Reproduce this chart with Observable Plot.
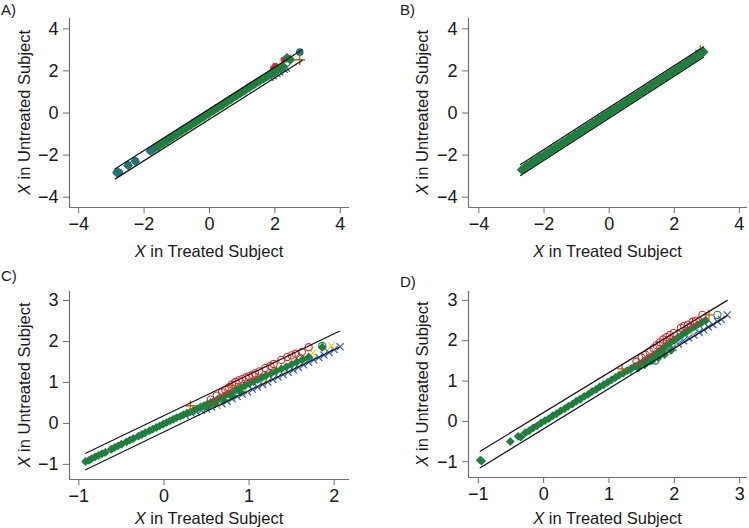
<!DOCTYPE html>
<html><head><meta charset="utf-8">
<script src="https://cdn.jsdelivr.net/npm/d3@7"></script>
<script src="https://cdn.jsdelivr.net/npm/@observablehq/plot@0.6"></script>
<style>
body{margin:0;background:#fff;}
#wrap{position:relative;width:749px;height:528px;overflow:hidden;}
#wrap svg{position:absolute;}
</style></head><body><div id="wrap"></div>
<script>
// ---------- tick labels ----------
const ticksAB = [-4, -2, 0, 2, 4];
const ticksCy = [-1, 0, 1, 2, 3];
const ticksCx = [-1, 0, 1, 2];
const ticksDx = [-1, 0, 1, 2, 3];
const panelLabels = ["A)", "B)", "C)", "D)"];
const xTitle = ["X", " in Treated Subject"];
const yTitle = ["X", " in Untreated Subject"];

// ---------- reference lines (endpoints) ----------
const upperA = [[-2.88, -2.65], [2.83, 3.00]];
const lowerA = [[-2.88, -3.13], [2.83, 2.49]];
const upperB = [[-2.72, -2.45], [2.90, 3.15]];
const lowerB = [[-2.72, -2.97], [2.90, 2.65]];
const upperC = [[-0.92, -0.73], [2.06, 2.25]];
const lowerC = [[-0.92, -1.13], [2.06, 1.86]];
const upperD = [[-0.97, -0.74], [2.81, 3.00]];
const lowerD = [[-0.97, -1.15], [2.81, 2.62]];

// ---------- Panel A points ----------
const greenA = [[-2.83,-2.84],[-2.78,-2.82],[-2.49,-2.49],[-2.27,-2.29],[-1.81,-1.80],
[-1.72,-1.72],[-1.64,-1.63],[-1.57,-1.58],[-1.50,-1.49],[-1.43,-1.44],[-1.36,-1.35],[-1.29,-1.30],[-1.22,-1.21],
[-1.15,-1.16],[-1.08,-1.07],[-1.01,-1.02],[-0.94,-0.93],[-0.87,-0.88],[-0.80,-0.79],[-0.73,-0.74],[-0.66,-0.65],
[-0.59,-0.60],[-0.52,-0.51],[-0.45,-0.46],[-0.38,-0.37],[-0.31,-0.32],[-0.24,-0.23],[-0.17,-0.18],[-0.10,-0.09],
[-0.03,-0.04],[0.04,0.05],[0.11,0.10],[0.18,0.19],[0.25,0.24],[0.32,0.33],[0.39,0.38],[0.46,0.47],[0.53,0.52],
[0.60,0.61],[0.67,0.66],[0.74,0.75],[0.81,0.80],[0.88,0.89],[0.95,0.94],[1.02,1.03],[1.09,1.08],[1.16,1.17],
[1.23,1.22],[1.30,1.31],[1.37,1.36],[1.44,1.45],[1.51,1.50],[1.58,1.59],[1.65,1.63],[1.72,1.71],[1.79,1.76],
[1.86,1.84],[1.93,1.90],[2.00,1.96],[2.08,2.04],[2.16,2.12],[2.25,2.22],[2.37,2.62],[2.47,2.53]];
const tealA = [[-2.83,-2.82],[-2.76,-2.83],[-2.49,-2.47],[-2.27,-2.27],[-1.81,-1.79],[2.76,2.89]];
const redA = [[1.95,2.12],[2.01,2.24],[2.27,2.53]];
const blueA = [[1.85,1.70],[1.95,1.77],[2.06,1.88],[2.15,1.95],[2.28,2.08],[2.35,2.14]];
const orangeA = [[2.76,2.53]];

// ---------- Panel B points ----------
const greenB = [[-2.68,-2.70],[-2.60,-2.61],[-2.52,-2.51],[-2.44,-2.45],[-2.36,-2.35],[-2.28,-2.29],[-2.20,-2.20],
[-2.12,-2.11],[-2.03,-2.04],[-1.94,-1.93],[-1.85,-1.86],[-1.76,-1.75],[-1.67,-1.68],[-1.58,-1.57],[-1.49,-1.50],
[-1.40,-1.39],[-1.31,-1.32],[-1.22,-1.21],[-1.13,-1.14],[-1.04,-1.03],[-0.95,-0.96],[-0.86,-0.85],[-0.77,-0.78],
[-0.68,-0.67],[-0.59,-0.60],[-0.50,-0.49],[-0.41,-0.42],[-0.32,-0.31],[-0.23,-0.24],[-0.14,-0.13],[-0.05,-0.06],
[0.04,0.05],[0.13,0.12],[0.22,0.23],[0.31,0.30],[0.40,0.41],[0.49,0.48],[0.58,0.59],[0.67,0.66],[0.76,0.77],
[0.85,0.84],[0.94,0.95],[1.03,1.02],[1.12,1.13],[1.21,1.20],[1.30,1.31],[1.39,1.38],[1.48,1.49],[1.57,1.56],
[1.66,1.67],[1.75,1.74],[1.84,1.85],[1.93,1.92],[2.02,2.03],[2.11,2.10],[2.20,2.21],[2.29,2.28],[2.38,2.39],
[2.47,2.46],[2.56,2.57],[2.65,2.64],[2.74,2.75],[2.82,2.83],[2.90,2.90]];
const orangeB = [[2.80,2.97]];

// ---------- Panel C points ----------
const greenC = [[-0.92,-0.93],[-0.88,-0.90],[-0.85,-0.86],[-0.81,-0.82],[-0.77,-0.78],[-0.73,-0.74],[-0.69,-0.71],
[-0.62,-0.63],[-0.58,-0.59],[-0.54,-0.55],[-0.50,-0.51],[-0.44,-0.45],[-0.40,-0.41],[-0.36,-0.37],[-0.30,-0.31],
[-0.26,-0.27],[-0.22,-0.23],[-0.17,-0.18],[-0.13,-0.14],[-0.09,-0.10],[-0.05,-0.06],[-0.01,-0.02],[0.03,0.02],
[0.07,0.06],[0.11,0.10],[0.15,0.14],[0.19,0.17],[0.23,0.21],[0.27,0.25],[0.31,0.28],[0.35,0.32],[0.39,0.36],
[0.43,0.40],[0.47,0.43],[0.51,0.47],[0.55,0.51],[0.59,0.55],[0.63,0.59],[0.67,0.63],[0.71,0.67],[0.75,0.72],
[0.80,0.77],[0.85,0.82],[0.90,0.87],[0.95,0.92],[1.00,0.97],[1.05,1.02],[1.10,1.07],[1.15,1.12],[1.20,1.17],
[1.26,1.22],[1.32,1.28],[1.38,1.33],[1.44,1.38],[1.50,1.44],[1.56,1.50],[1.63,1.56],[1.70,1.62],[1.86,1.86],
[0.50,0.40],[0.60,0.48],[0.70,0.57],[0.80,0.66],[0.90,0.76]];
const greenOC = [[1.86,1.89],[1.60,1.60]];
const redC = [[0.55,0.58],[0.62,0.68],[0.68,0.76],[0.72,0.82],[0.76,0.88],[0.80,0.95],[0.84,1.01],
[0.88,1.05],[0.92,1.08],[0.96,1.12],[1.00,1.15],[1.04,1.18],[1.07,1.22],[1.12,1.27],[1.19,1.35],[1.25,1.40],
[1.29,1.45],[1.38,1.55],[1.45,1.62],[1.50,1.66],[1.55,1.70],[1.62,1.74],[1.70,1.86]];
const blueC = [[0.25,0.20],[0.32,0.25],[0.38,0.28],[0.44,0.32],[0.50,0.36],[0.56,0.40],[0.62,0.44],[0.68,0.48],
[0.74,0.54],[0.80,0.60],[0.86,0.66],[0.92,0.71],[0.98,0.77],[1.04,0.83],[1.10,0.89],[1.16,0.95],[1.22,1.01],
[1.28,1.07],[1.34,1.13],[1.40,1.19],[1.46,1.25],[1.52,1.31],[1.58,1.37],[1.64,1.43],[1.70,1.49],[1.76,1.55],
[1.82,1.61],[1.88,1.67],[1.94,1.73],[2.00,1.80],[2.07,1.87]];
const yellowC = [[1.97,1.89],[1.75,1.72],[1.62,1.55],[1.40,1.30],[1.20,1.08],[0.95,0.83],[0.62,0.45]];
const orangeC = [[0.31,0.43],[0.80,0.92]];

// ---------- Panel D points ----------
const greenD = [[-0.97,-0.96],[-0.95,-0.98],[-0.51,-0.50],[-0.39,-0.37],[-0.35,-0.39],
[-0.28,-0.28],[-0.22,-0.23],[-0.16,-0.16],[-0.10,-0.11],[-0.04,-0.04],[0.02,0.02],[0.08,0.07],[0.14,0.14],
[0.20,0.19],[0.26,0.26],[0.32,0.31],[0.38,0.38],[0.44,0.43],[0.50,0.50],[0.56,0.55],[0.62,0.62],[0.68,0.67],
[0.74,0.74],[0.80,0.79],[0.86,0.86],[0.92,0.91],[0.98,0.97],[1.04,1.03],[1.10,1.09],[1.16,1.15],[1.22,1.20],
[1.28,1.26],[1.34,1.31],[1.40,1.37],[1.46,1.42],[1.52,1.48],[1.58,1.54],[1.64,1.60],[1.70,1.66],[1.76,1.73],
[1.82,1.80],[1.88,1.88],[1.94,1.95],[2.00,2.01],[2.06,2.08],[2.12,2.15],[2.18,2.21],[2.24,2.28],[2.30,2.34],
[2.36,2.40],[2.42,2.45],[2.48,2.50],
[1.45,1.33],[1.55,1.41],[1.65,1.50],[1.75,1.58],[1.85,1.66],[1.95,1.76]];
const greenOD = [[2.66,2.64],[1.71,1.51]];
const redD = [[1.42,1.48],[1.50,1.58],[1.56,1.65],[1.62,1.73],[1.68,1.81],[1.73,1.89],[1.78,1.96],
[1.83,2.03],[1.88,2.09],[1.93,2.14],[1.99,2.19],[2.10,2.32],[2.15,2.37],[2.21,2.40],[2.28,2.47],[2.33,2.50],[2.43,2.64]];
const blueD = [[1.30,1.24],[1.40,1.32],[1.50,1.40],[1.58,1.48],[1.66,1.55],[1.74,1.61],[1.82,1.68],[1.90,1.76],
[1.98,1.83],[2.06,1.92],[2.14,2.00],[2.22,2.07],[2.30,2.14],[2.38,2.21],[2.45,2.27],[2.52,2.34],[2.59,2.40],
[2.66,2.48],[2.72,2.53],[2.81,2.64]];
const yellowD = [[2.25,2.22],[2.00,1.95],[1.70,1.62]];
const orangeD = [[2.53,2.64],[1.20,1.30]];

// ---------- styling ----------
const FONT = "'Liberation Sans', Arial, Helvetica, sans-serif";
const AXC = "#707070";
const TXT = "#1a1a1a";
const GREEN = "#1f7f3e", RED = "#e3262b", BLUE = "#3a5cb5", YELLOW = "#e6dc2a", ORANGE = "#c0601e", TEAL = "#23737a";

const layer = (data, kind, color, r) => ({data, kind, color, r});

function dots(L) {
  const base = {x: d => d[0], y: d => d[1]};
  switch (L.kind) {
    case "diamond": return Plot.dot(L.data, {...base, symbol: "diamond2", r: L.r ?? 4.2, fill: L.color, stroke: "none"});
    case "disc": return Plot.dot(L.data, {...base, symbol: "circle", r: L.r ?? 3.6, fill: L.color, stroke: "none"});
    case "circle": return Plot.dot(L.data, {...base, symbol: "circle", r: L.r ?? 3.6, fill: "none", stroke: L.color, strokeWidth: 1.1});
    case "times": return Plot.dot(L.data, {...base, symbol: "times", r: L.r ?? 3.3, fill: "none", stroke: L.color, strokeWidth: 1.2});
    case "plus": return Plot.dot(L.data, {...base, symbol: "plus", r: L.r ?? 3.5, fill: "none", stroke: L.color, strokeWidth: 1.3});
  }
}

function panel(cfg) {
  const marks = [];
  for (const L of cfg.layers) marks.push(dots(L));
  marks.push(Plot.line(cfg.upper, {x: d => d[0], y: d => d[1], stroke: "#151515", strokeWidth: 1.2}));
  marks.push(Plot.line(cfg.lower, {x: d => d[0], y: d => d[1], stroke: "#151515", strokeWidth: 1.2}));
  marks.push(Plot.ruleX([cfg.xd[0]], {stroke: AXC, strokeWidth: 1.2}));
  marks.push(Plot.ruleY([cfg.yd[0]], {stroke: AXC, strokeWidth: 1.2}));
  marks.push(Plot.axisX(cfg.xt, {tickSize: 6, tickPadding: 4, fontSize: 18, stroke: AXC, fill: TXT, label: null}));
  marks.push(Plot.axisY(cfg.yt, {tickSize: 6, tickPadding: 5, fontSize: 18, stroke: AXC, fill: TXT, label: null}));
  const svg = Plot.plot({
    width: cfg.w, height: 264,
    marginLeft: cfg.mL, marginRight: cfg.mR, marginTop: cfg.mT, marginBottom: cfg.mB,
    x: {domain: cfg.xd}, y: {domain: cfg.yd},
    style: {fontFamily: FONT, background: "transparent", overflow: "visible"},
    marks
  });
  svg.style.left = cfg.left + "px";
  svg.style.top = cfg.top + "px";
  const s = d3.select(svg);
  const fx = (cfg.mL + cfg.w - cfg.mR) / 2;
  const fy = (cfg.mT + 264 - cfg.mB) / 2;
  const tx = s.append("text").attr("x", fx).attr("y", cfg.xTitleY).attr("text-anchor", "middle")
    .attr("font-family", FONT).attr("font-size", 16.5).attr("fill", TXT);
  tx.append("tspan").attr("font-style", "italic").text(xTitle[0]);
  tx.append("tspan").text(xTitle[1]);
  const ty = s.append("text").attr("transform", `translate(${cfg.yTitleX},${fy}) rotate(-90)`).attr("text-anchor", "middle")
    .attr("font-family", FONT).attr("font-size", 16.5).attr("fill", TXT);
  ty.append("tspan").attr("font-style", "italic").text(yTitle[0]);
  ty.append("tspan").text(yTitle[1]);
  s.append("text").attr("x", cfg.labX).attr("y", cfg.labY).attr("text-anchor", "start")
    .attr("font-family", FONT).attr("font-size", 15).attr("fill", TXT).text(cfg.label);
  document.getElementById("wrap").appendChild(svg);
}

panel({left: 0, top: 0, w: 375, mL: 69, mR: 26, mT: 18, mB: 57,
  xd: [-4.28, 4.28], yd: [-4.49, 4.49], xt: ticksAB, yt: ticksAB,
  upper: upperA, lower: lowerA,
  layers: [layer(blueA, "times", BLUE), layer(redA, "disc", RED, 3.2), layer(greenA, "diamond", GREEN, 4.4),
           layer(tealA, "disc", TEAL, 3.8), layer(orangeA, "plus", ORANGE)],
  xTitleY: 257, yTitleX: 30, label: panelLabels[0], labX: 1, labY: 15});

panel({left: 375, top: 0, w: 374, mL: 93, mR: 2, mT: 18, mB: 57,
  xd: [-4.32, 4.25], yd: [-4.49, 4.49], xt: ticksAB, yt: ticksAB,
  upper: upperB, lower: lowerB,
  layers: [layer(orangeB, "plus", ORANGE), layer(greenB, "diamond", GREEN, 4.6)],
  xTitleY: 257, yTitleX: 53, label: panelLabels[1], labX: 25, labY: 15});

panel({left: 0, top: 264, w: 375, mL: 69, mR: 26, mT: 27, mB: 49,
  xd: [-1.11, 2.18], yd: [-1.37, 3.22], xt: ticksCx, yt: ticksCy,
  upper: upperC, lower: lowerC,
  layers: [layer(blueC, "times", BLUE), layer(yellowC, "times", YELLOW), layer(greenC, "diamond", GREEN, 4.0),
           layer(redC, "circle", RED), layer(greenOC, "circle", GREEN), layer(orangeC, "plus", ORANGE)],
  xTitleY: 260, yTitleX: 30, label: panelLabels[2], labX: 1, labY: 17});

panel({left: 375, top: 264, w: 374, mL: 93, mR: 2, mT: 27, mB: 51,
  xd: [-1.15, 3.12], yd: [-1.39, 3.22], xt: ticksDx, yt: ticksCy,
  upper: upperD, lower: lowerD,
  layers: [layer(blueD, "times", BLUE), layer(yellowD, "times", YELLOW), layer(greenD, "diamond", GREEN, 4.0),
           layer(redD, "circle", RED), layer(greenOD, "circle", GREEN), layer(orangeD, "plus", ORANGE)],
  xTitleY: 260, yTitleX: 53, label: panelLabels[3], labX: 25, labY: 23});
</script></body></html>
